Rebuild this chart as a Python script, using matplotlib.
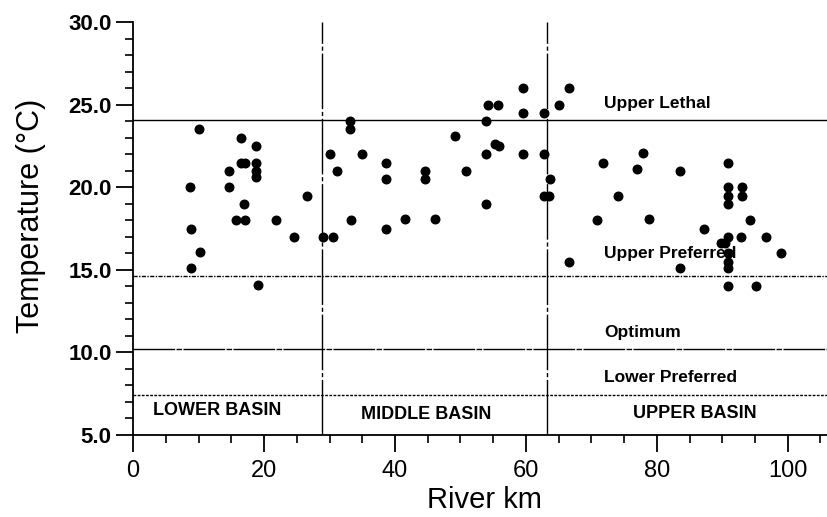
import numpy as np
import matplotlib
matplotlib.use("Agg")
import matplotlib.pyplot as plt
from matplotlib.ticker import MultipleLocator, FormatStrFormatter

plt.rcParams['font.family'] = ['Liberation Sans', 'DejaVu Sans']

# Sampling sites: river km and water temperature (deg C)
river_km = [
    # lower basin
    10.1, 16.5, 18.75, 16.5, 17.1, 18.75, 18.75, 18.75, 14.7, 8.7, 14.7, 26.6,
    17.0, 15.7, 17.1, 21.8, 8.8, 24.6, 10.2, 8.9, 19.1,
    # middle basin
    29.0, 30.6, 30.1, 31.2, 33.2, 33.2, 35.0, 33.3, 38.6, 38.6, 38.6, 41.5,
    44.6, 44.6, 46.1, 49.1, 50.9, 53.9, 54.2, 55.8, 53.9, 55.3, 55.9, 53.9,
    59.6, 59.6, 59.6, 62.7, 62.7, 62.7, 63.6, 63.7,
    # upper basin
    65.1, 66.6, 66.6, 71.8, 77.9, 76.9, 83.6, 74.0, 70.8, 78.8, 87.2, 83.6,
    90.9, 90.9, 90.9, 90.9, 93.0, 93.0, 94.2, 90.9, 92.9, 96.7, 89.8, 90.4,
    90.9, 90.9, 90.9, 98.9, 90.9, 95.1,
]
temperature = [
    23.5, 23.0, 22.5, 21.5, 21.5, 21.5, 21.0, 20.6, 21.0, 20.0, 20.0, 19.5,
    19.0, 18.0, 18.0, 18.0, 17.5, 17.0, 16.1, 15.1, 14.1,
    17.0, 17.0, 22.0, 21.0, 24.0, 23.5, 22.0, 18.0, 21.5, 20.5, 17.5, 18.1,
    21.0, 20.5, 18.1, 23.1, 21.0, 24.0, 25.0, 25.0, 22.0, 22.6, 22.5, 19.0,
    26.0, 24.5, 22.0, 24.5, 22.0, 19.5, 19.5, 20.5,
    25.0, 26.0, 15.5, 21.5, 22.1, 21.1, 21.0, 19.5, 18.0, 18.1, 17.5, 15.1,
    21.5, 20.0, 19.5, 19.0, 20.0, 19.5, 18.0, 17.0, 17.0, 17.0, 16.6, 16.6,
    16.0, 15.5, 15.1, 16.0, 14.0, 14.0,
]

# Thermal criteria
criteria_names = ["Upper Lethal", "Upper Preferred", "Optimum", "Lower Preferred"]
criteria_values = [24.1, 14.6, 10.2, 7.4]
criteria_label_y = [25.1, 16.0, 11.2, 8.45]
criteria_styles = ["-", (0, (3, 1, 1, 1)), (0, (30, 1, 4, 1)), (0, (2, 1))]

# Basin boundaries (river km) and labels
basin_bounds = [28.8, 63.3]
basin_names = ["LOWER BASIN", "MIDDLE BASIN", "UPPER BASIN"]
basin_label_x = [12.8, 44.8, 85.8]
basin_label_y = [6.5, 6.2, 6.3]

fig = plt.figure(figsize=(8.27, 5.17), dpi=100)
ax = fig.add_axes([0.161, 0.159, 0.839, 0.798])

for val, ls in zip(criteria_values, criteria_styles):
    ax.axhline(val, color="black", lw=1.0, ls=ls)
for xb in basin_bounds:
    ax.axvline(xb, color="black", lw=1.0, ls=(0, (40, 2, 3, 2)))

ax.scatter(river_km, temperature, s=38, color="black", zorder=3)

for name, ty in zip(criteria_names, criteria_label_y):
    ax.text(72, ty, name, fontsize=12.5, fontweight="bold", ha="left", va="center")
for name, bx, by in zip(basin_names, basin_label_x, basin_label_y):
    ax.text(bx, by, name, fontsize=13, fontweight="bold", ha="center", va="center")

ax.set_xlim(0, 106)
ax.set_ylim(5, 30)
ax.spines["top"].set_visible(False)
ax.spines["right"].set_visible(False)
ax.spines["left"].set_linewidth(1.3)
ax.spines["bottom"].set_linewidth(1.3)

ax.xaxis.set_major_locator(MultipleLocator(20))
ax.xaxis.set_minor_locator(MultipleLocator(5))
ax.yaxis.set_major_locator(MultipleLocator(5))
ax.yaxis.set_minor_locator(MultipleLocator(1))
ax.yaxis.set_major_formatter(FormatStrFormatter("%.1f"))
ax.tick_params(axis="x", which="major", length=12, width=1.3, labelsize=17, pad=6)
ax.tick_params(axis="x", which="minor", length=6, width=1.2)
ax.tick_params(axis="y", which="major", length=12, width=1.3, labelsize=16)
ax.tick_params(axis="y", which="minor", length=6, width=1.2)
for lbl in ax.get_yticklabels():
    lbl.set_fontweight("bold")

ax.set_xlabel("River km", fontsize=21)
ax.set_ylabel("Temperature (\u00b0C)", fontsize=22)
ax.xaxis.set_label_coords(0.507, -0.125)
ax.yaxis.set_label_coords(-0.125, 0.53)

fig.savefig("out.png", dpi=100)
